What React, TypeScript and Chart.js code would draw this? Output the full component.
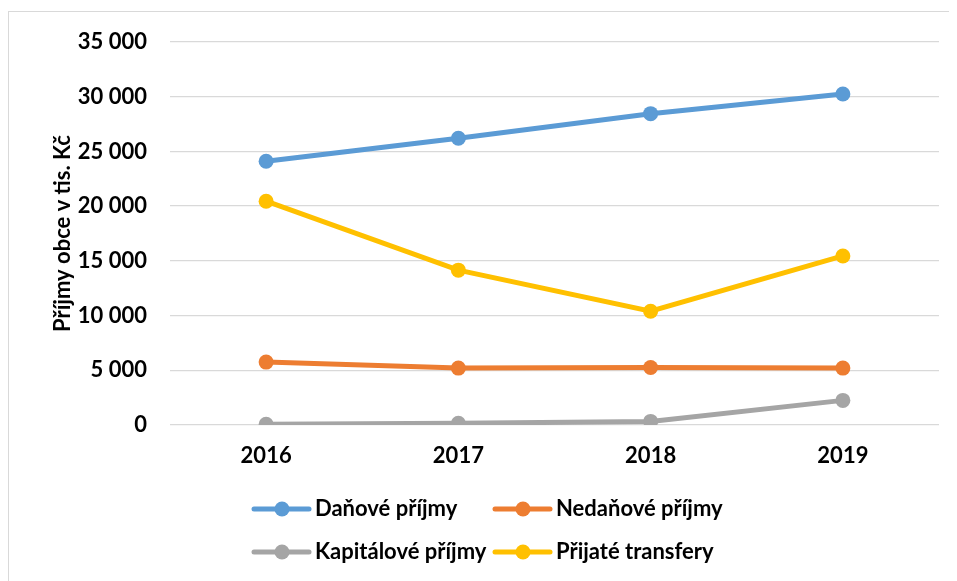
import React, { useEffect, useRef } from "react";
import { Chart, registerables } from "chart.js";

Chart.register(...registerables);

const years = ["2016", "2017", "2018", "2019"];
const danove = [24100, 26200, 28450, 30250];
const nedanove = [5750, 5200, 5250, 5200];
const kapitalove = [60, 150, 330, 2250];
const transfery = [20450, 14150, 10400, 15450];
const yTicks = [0, 5000, 10000, 15000, 20000, 25000, 30000, 35000];

const seriesNames = ["Daňové příjmy", "Nedaňové příjmy", "Kapitálové příjmy", "Přijaté transfery"];
const seriesColors = ["#5B9BD5", "#ED7D31", "#A5A5A5", "#FFC000"];
const seriesValues = [danove, nedanove, kapitalove, transfery];

const FONT = "Lato, 'Open Sans', sans-serif";

const fmt = (v: number) => String(v).replace(/\B(?=(\d{3})+(?!\d))/g, " ");

const legendPlugin = {
  id: "gridLegend",
  afterDraw(chart: any) {
    const { ctx, chartArea } = chart;
    const col0 = chartArea.left + 84;
    const colW = 241;
    const row0 = chartArea.bottom + 84;
    const rowH = 43;
    ctx.save();
    chart.data.datasets.forEach((ds: any, i: number) => {
      const x = col0 + (i % 2) * colW;
      const y = row0 + Math.floor(i / 2) * rowH;
      ctx.strokeStyle = ds.borderColor;
      ctx.lineWidth = 5;
      ctx.lineCap = "round";
      ctx.beginPath();
      ctx.moveTo(x, y);
      ctx.lineTo(x + 55, y);
      ctx.stroke();
      ctx.fillStyle = ds.borderColor;
      ctx.beginPath();
      ctx.arc(x + 28, y, 7.5, 0, Math.PI * 2);
      ctx.fill();
      ctx.fillStyle = "#000";
      ctx.font = `bold 22px ${FONT}`;
      ctx.textBaseline = "middle";
      ctx.textAlign = "left";
      ctx.fillText(ds.label, x + 61, y);
    });
    ctx.restore();
  },
};

export default function App() {
  const ref = useRef<HTMLCanvasElement | null>(null);
  useEffect(() => {
    if (!ref.current) return;
    const chart = new Chart(ref.current, {
      type: "line",
      data: {
        labels: years,
        datasets: seriesNames.map((name, i) => ({
          label: name,
          data: seriesValues[i],
          borderColor: seriesColors[i],
          backgroundColor: seriesColors[i],
          borderWidth: 5,
          pointRadius: 7.5,
          pointHoverRadius: 7.5,
          pointBorderWidth: 0,
          tension: 0,
        })),
      },
      options: {
        animation: false,
        responsive: false,
        maintainAspectRatio: false,
        layout: { padding: { left: 32, top: 30, right: 18, bottom: 106 } },
        plugins: {
          legend: { display: false },
          tooltip: { enabled: false },
        },
        scales: {
          x: {
            offset: true,
            grid: { display: false },
            border: { display: false },
            ticks: {
              color: "#000",
              padding: 10,
              font: { family: FONT, size: 22, weight: "bold" },
            },
            afterFit: (s: any) => {
              s.height = 50;
            },
          },
          y: {
            min: 0,
            max: 35000,
            afterBuildTicks: (s: any) => {
              s.ticks = yTicks.map((v) => ({ value: v }));
            },
            grid: { color: "#D9D9D9", lineWidth: 1.3, drawTicks: false },
            border: { display: false },
            ticks: {
              color: "#000",
              padding: 23,
              font: { family: FONT, size: 22, weight: "bold" },
              callback: (v: any) => fmt(Number(v)),
            },
            title: {
              display: true,
              text: "Příjmy obce v tis. Kč",
              color: "#000",
              padding: { top: 9, bottom: 0 },
              font: { family: FONT, size: 22, weight: "bold" },
            },
            afterFit: (s: any) => {
              s.width = 129;
              s.paddingTop = 12;
              s.paddingBottom = 12;
            },
          },
        },
      },
      plugins: [legendPlugin],
    });
    return () => chart.destroy();
  }, []);
  return (
    <div
      style={{
        paddingTop: 3,
      }}
    >
      <div
        style={{
          width: 948,
          height: 569,
          borderTop: "1.5px solid #D9D9D9",
          borderLeft: "1.5px solid #D9D9D9",
          background: "#fff",
        }}
      >
        <canvas ref={ref} width={948} height={569} style={{ display: "block" }} />
      </div>
    </div>
  );
}
